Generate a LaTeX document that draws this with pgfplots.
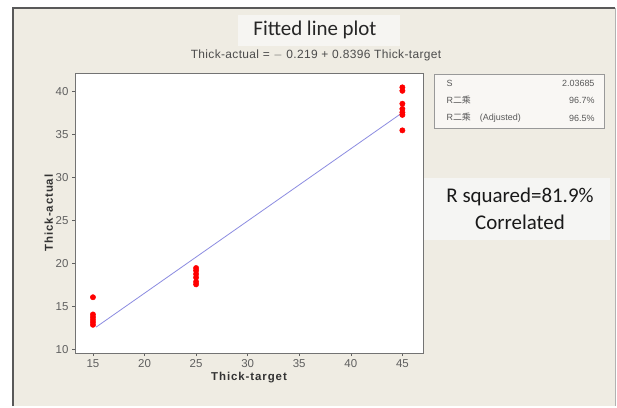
\documentclass[border=0pt]{standalone}
\usepackage{pgfplots}
\pgfplotsset{compat=1.18}
\usepackage{fontspec}
\setmainfont{Liberation Sans}
\newfontfamily\calfont{Carlito}
\newfontfamily\cjkfont{Noto Sans CJK SC}
\newfontfamily\lblfont[LetterSpace=8]{Liberation Sans}
\newfontfamily\subfont[LetterSpace=3]{Liberation Sans}
\definecolor{panel}{RGB}{239,236,227}
\definecolor{titlebg}{RGB}{246,245,242}
\definecolor{rbox}{RGB}{245,245,243}
\definecolor{fitline}{RGB}{140,140,225}
\definecolor{tickgray}{RGB}{95,95,95}
\begin{document}
\begin{tikzpicture}[x=1bp,y=1bp]
\useasboundingbox (0,0) rectangle (617,407);
\fill[white] (0,0) rectangle (617,407);
\fill[panel] (13,1) rectangle (615,399);
\draw[gray!60,line width=0.6bp] (615,399) -- (615,1);
\draw[black!65,line width=1.2bp] (13,1) -- (13,399) -- (615,399);
% title
\fill[titlebg] (238,361) rectangle (400,392);
\node[font={\calfont\fontsize{21}{24}\selectfont},text=black!85] at (315,377) {Fitted line plot};
\node[font={\subfont\fontsize{12}{14}\selectfont},text=black!70] at (316,352) {Thick-actual = $-$ 0.219 + 0.8396 Thick-target};
% stats box
\draw[fill=white!60!panel,draw=gray!80,line width=0.7bp] (434,279) rectangle (604,333);
\begin{scope}[font={\fontsize{9}{11}\selectfont},text=black!65]
\node[anchor=west] at (443,324) {S};
\node[anchor=east] at (598,324) {2.03685};
\node[anchor=west] at (443,307) {R{\cjkfont 二乘}};
\node[anchor=east] at (598,307) {96.7\%};
\node[anchor=west] at (443,289) {R{\cjkfont 二乘}\quad(Adjusted)};
\node[anchor=east] at (598,289) {96.5\%};
\end{scope}
% R squared box
\fill[rbox] (424,167) rectangle (610,229);
\node[font={\calfont\fontsize{21}{24}\selectfont},text=black!90] at (520,210) {R squared=81.9\%};
\node[font={\calfont\fontsize{21}{24}\selectfont},text=black!90] at (520,185) {Correlated};
\begin{axis}[
  at={(75bp,54bp)}, anchor=south west,
  scale only axis, width=348bp, height=280bp,
  xmin=13.26, xmax=47.0, ymin=9.62, ymax=42.17,
  xtick={15,20,...,45}, ytick={10,15,...,40},
  tick align=outside, tick pos=left,
  major tick length=3bp,
  axis line style={draw=gray!90!black,line width=0.8bp},
  tick style={draw=tickgray,line width=0.6bp},
  axis background/.style={fill=white},
  ticklabel style={font={\fontsize{11.5}{13}\selectfont},text=tickgray},
  /pgf/number format/assume math mode=true,
  xlabel={Thick-target}, ylabel={Thick-actual},
  label style={font={\lblfont\bfseries\fontsize{11.5}{13}\selectfont},text=black!80},
  xlabel style={yshift=2bp},
  ylabel style={yshift=-4bp},
  clip=false,
]
\addplot[fitline,line width=0.8bp] coordinates {(15.3,12.63) (45,37.56)};
\addplot[only marks,mark=*,mark size=2.7bp,color=red,mark options={draw=red,fill=red}] coordinates {
(15,16.1) (15,14.1) (15,13.8) (15,13.5) (15,13.2) (15,12.9)
(25,19.5) (25,19.2) (25,18.8) (25,18.4) (25,17.9) (25,17.6)
(45,40.5) (45,40.1) (45,38.6) (45,38.0) (45,37.6) (45,37.3) (45,35.5)
};
\end{axis}
\end{tikzpicture}
\end{document}
